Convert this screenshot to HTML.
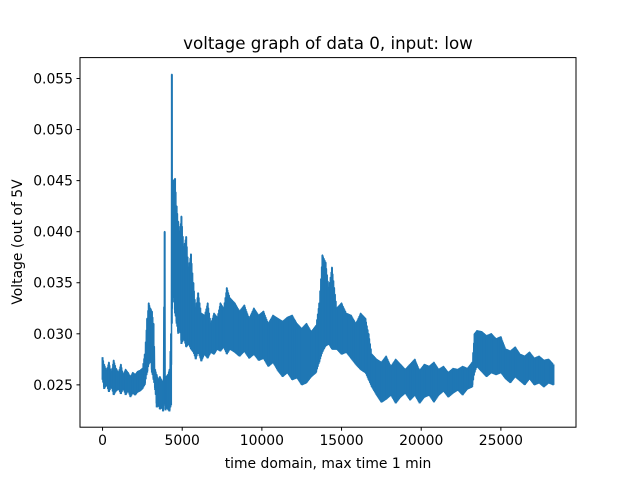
<!DOCTYPE html>
<html><head><meta charset="utf-8"><style>
html,body{margin:0;padding:0;background:#fff;}
svg{display:block;font-family:"DejaVu Sans","Liberation Sans",sans-serif;}
</style></head><body>
<svg id="chart" width="640" height="480" viewBox="0 0 640 480">
<rect width="640" height="480" fill="#fff"/>
<text x="328" y="49" font-size="16.7" text-anchor="middle">voltage graph of data 0, input: low</text>
<g id="plot"></g>
<g id="xt"></g>
<g id="yt"></g>
<rect x="80" y="57.6" width="496" height="369.6" fill="none" stroke="#000" stroke-width="1"/>
<text x="328" y="468" font-size="13.9" text-anchor="middle">time domain, max time 1 min</text>
<text transform="translate(22,242) rotate(-90)" font-size="13.9" text-anchor="middle">Voltage (out of 5V</text>
</svg>
<script>
const envX  = [0,100,250,400,550,700,850,1000,1150,1300,1450,1600,1750,1900,2050,2200,2350,2500,2650,2800,2900,3000,3100,3200,3300,3400,3500,3600,3700,3800,3900,3950,4000,4100,4200,4300,4350,4400,4450,4550,4650,4750,4850,4950,5100,5250,5400,5550,5700,5850,6000,6200,6400,6600,6800,7000,7200,7400,7600,7800,8000,8300,8600,8900,9200,9500,9800,10100,10400,10700,11000,11300,11600,11900,12200,12500,12800,13100,13400,13600,13800,14000,14200,14400,14700,15000,15300,15600,15900,16200,16500,16700,16900,17200,17500,17800,18100,18400,18700,19000,19300,19600,19900,20200,20500,20800,21100,21400,21700,22000,22300,22600,22900,23200,23350,23500,23800,24100,24400,24700,25000,25300,25600,25900,26200,26500,26800,27100,27400,27700,28000,28300];
const envHi = [0.0277,0.0270,0.0264,0.0272,0.0262,0.0274,0.0266,0.0262,0.0270,0.0260,0.0265,0.0262,0.0258,0.0262,0.0260,0.0263,0.0264,0.0266,0.0280,0.0315,0.0330,0.0325,0.0322,0.0310,0.0265,0.0260,0.0255,0.0258,0.0255,0.0252,0.0400,0.0258,0.0258,0.0260,0.0265,0.0300,0.0554,0.0442,0.0450,0.0452,0.0425,0.0410,0.0400,0.0415,0.0385,0.0395,0.0365,0.0378,0.0350,0.0325,0.0340,0.0320,0.0318,0.0330,0.0310,0.0320,0.0316,0.0330,0.0325,0.0345,0.0335,0.0330,0.0322,0.0328,0.0315,0.0325,0.0318,0.0322,0.0310,0.0318,0.0315,0.0312,0.0316,0.0318,0.0310,0.0305,0.0310,0.0302,0.0308,0.0330,0.0377,0.0370,0.0345,0.0365,0.0325,0.0330,0.0320,0.0318,0.0310,0.0320,0.0315,0.0300,0.0280,0.0275,0.0272,0.0278,0.0268,0.0275,0.0270,0.0265,0.0270,0.0275,0.0264,0.0270,0.0268,0.0272,0.0265,0.0268,0.0262,0.0266,0.0265,0.0268,0.0266,0.0272,0.0300,0.0303,0.0302,0.0298,0.0300,0.0295,0.0297,0.0285,0.0283,0.0287,0.0280,0.0278,0.0282,0.0276,0.0278,0.0274,0.0275,0.0270];
const envLo = [0.0255,0.0246,0.0250,0.0243,0.0248,0.0240,0.0244,0.0246,0.0241,0.0246,0.0240,0.0244,0.0238,0.0242,0.0240,0.0243,0.0244,0.0246,0.0250,0.0262,0.0270,0.0275,0.0262,0.0255,0.0245,0.0228,0.0230,0.0226,0.0228,0.0224,0.0234,0.0225,0.0228,0.0226,0.0224,0.0230,0.0310,0.0340,0.0335,0.0320,0.0310,0.0300,0.0305,0.0290,0.0295,0.0287,0.0290,0.0285,0.0282,0.0275,0.0282,0.0273,0.0280,0.0276,0.0282,0.0280,0.0285,0.0283,0.0287,0.0280,0.0285,0.0282,0.0278,0.0283,0.0276,0.0280,0.0274,0.0276,0.0268,0.0272,0.0264,0.0258,0.0262,0.0255,0.0257,0.0250,0.0252,0.0258,0.0262,0.0272,0.0282,0.0288,0.0290,0.0285,0.0285,0.0280,0.0282,0.0276,0.0270,0.0265,0.0262,0.0255,0.0248,0.0240,0.0233,0.0236,0.0240,0.0232,0.0238,0.0242,0.0235,0.0240,0.0232,0.0238,0.0240,0.0233,0.0240,0.0244,0.0238,0.0242,0.0245,0.0240,0.0246,0.0248,0.0262,0.0268,0.0263,0.0258,0.0262,0.0260,0.0262,0.0256,0.0252,0.0258,0.0254,0.0250,0.0256,0.0250,0.0252,0.0248,0.0252,0.0250];
const xTicks = [0,5000,10000,15000,20000,25000];
const yTicks = [0.025,0.030,0.035,0.040,0.045,0.050,0.055];
const yTickLabels = ["0.025","0.030","0.035","0.040","0.045","0.050","0.055"];

const X0=80,X1=576,Y0=57.6,Y1=427.2;
const xmin=-1415,xmax=29715,ymin=0.020855,ymax=0.057045;
const sx=v=>X0+(v-xmin)/(xmax-xmin)*(X1-X0);
const sy=v=>Y1-(v-ymin)/(ymax-ymin)*(Y1-Y0);
const NS="http://www.w3.org/2000/svg";
function interp(arr,x){
  for(let i=0;i<envX.length-1;i++){
    if(x>=envX[i]&&x<=envX[i+1]){const t=(x-envX[i])/(envX[i+1]-envX[i]);return arr[i]+t*(arr[i+1]-arr[i]);}
  }
  return arr[arr.length-1];
}
let pts=[];
const xEnd=envX[envX.length-1];
let k=0;
for(let x=envX[0];x<=xEnd;x+=25){
  const v=(k%2===0)?interp(envHi,x):interp(envLo,x);
  pts.push(sx(x).toFixed(2)+","+sy(v).toFixed(2));
  k++;
}
const plot=document.getElementById('plot');
const line=document.createElementNS(NS,'polyline');
line.setAttribute('points',pts.join(' '));
line.setAttribute('fill','none');
line.setAttribute('stroke','#1f77b4');
line.setAttribute('stroke-width','1.5');
line.setAttribute('stroke-linejoin','round');


plot.appendChild(line);
for(let i=0;i<envX.length;i++){
  const s=document.createElementNS(NS,'line');
  s.setAttribute('x1',sx(envX[i]));s.setAttribute('x2',sx(envX[i]));
  s.setAttribute('y1',sy(envHi[i]));s.setAttribute('y2',sy(envLo[i]));
  s.setAttribute('stroke','#1f77b4');s.setAttribute('stroke-width','2');
  
  
  plot.appendChild(s);
}
const xt=document.getElementById('xt');
xTicks.forEach(v=>{
  const l=document.createElementNS(NS,'line');
  l.setAttribute('x1',sx(v));l.setAttribute('x2',sx(v));l.setAttribute('y1',Y1);l.setAttribute('y2',Y1+3.5);
  l.setAttribute('stroke','#000');
  
  
  xt.appendChild(l);
  const t=document.createElementNS(NS,'text');
  t.setAttribute('x',sx(v));t.setAttribute('y',Y1+18);t.setAttribute('font-size','13.9');t.setAttribute('text-anchor','middle');
  t.textContent=String(v);
  
  
  xt.appendChild(t);
});
const yt=document.getElementById('yt');
yTicks.forEach((v,i)=>{
  const l=document.createElementNS(NS,'line');
  l.setAttribute('x1',X0-3.5);l.setAttribute('x2',X0);l.setAttribute('y1',sy(v));l.setAttribute('y2',sy(v));
  l.setAttribute('stroke','#000');
  
  
  yt.appendChild(l);
  const t=document.createElementNS(NS,'text');
  t.setAttribute('x',X0-7);t.setAttribute('y',sy(v)+5);t.setAttribute('font-size','13.9');t.setAttribute('text-anchor','end');
  t.textContent=yTickLabels[i];
  
  
  yt.appendChild(t);
});
</script>
</body></html>
